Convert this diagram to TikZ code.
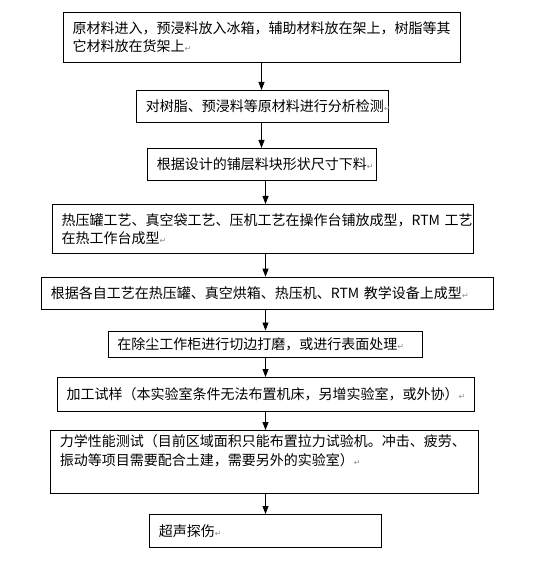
\documentclass[tikz,border=0pt]{standalone}
\usepackage{fontspec}
\setmainfont{Noto Sans CJK SC}
\newfontfamily\markfont{DejaVu Sans}
\usetikzlibrary{arrows.meta}
\newcommand{\retmark}{{\markfont\fontsize{8pt}{8pt}\selectfont\textcolor{black!45}{↵}}}

\begin{document}
\begin{tikzpicture}[
    % GLOBAL CFG
    x=1pt, y=-1pt,
    font=\fontsize{14pt}{18.3pt}\selectfont,
    % Styles
    step box/.style={% For the process boxes
        rectangle,
        draw=black,
        line width=0.8pt,
        anchor=north west,
        inner xsep=9.5pt,
        inner ysep=0pt,
        align=left,
    },
    flow/.style={% Arrows between boxes
        line width=0.8pt,
        -{Triangle[width=6pt,length=8pt]},
    },
    ]

    \useasboundingbox (0,0) rectangle (557,561);

    % Draw boxes named b#
    \node [step box, minimum width=397pt, minimum height=50pt, text width=378pt] (b1) at (62.7,11.7)
        {原材料进入，预浸料放入冰箱，辅助材料放在架上，树脂等其\\它材料放在货架上\retmark};
    \node [step box, minimum width=252pt, minimum height=31.7pt, text width=233pt] (b2) at (136,90)
        {对树脂、预浸料等原材料进行分析检测\retmark};
    \node [step box, minimum width=229pt, minimum height=32pt, text width=210pt] (b3) at (147,148)
        {根据设计的铺层料块形状尺寸下料\retmark};
    \node [step box, minimum width=421pt, minimum height=49pt, text width=402pt] (b4) at (51.7,204)
        {热压罐工艺、真空袋工艺、压机工艺在操作台铺放成型，RTM~工艺\\在热工作台成型\retmark};
    \node [step box, minimum width=452pt, minimum height=32.6pt, text width=433pt] (b5) at (41,276.7)
        {根据各自工艺在热压罐、真空烘箱、热压机、RTM~教学设备上成型\retmark};
    \node [step box, minimum width=314.5pt, minimum height=26pt, text width=295.5pt] (b6) at (107.5,330.5)
        {在除尘工作柜进行切边打磨，或进行表面处理\retmark};
    \node [step box, minimum width=417.3pt, minimum height=33.5pt, text width=398.3pt] (b7) at (56.7,377)
        {加工试样（本实验室条件无法布置机床，另增实验室，或外协）\retmark};
    \node [step box, minimum width=428pt, minimum height=63pt, text width=409pt] (b8) at (50,430)
        {力学性能测试（目前区域面积只能布置拉力试验机。冲击、疲劳、\\振动等项目需要配合土建，需要另外的实验室）\retmark\\\strut};
    \node [step box, minimum width=232pt, minimum height=33pt, text width=213pt] (b9) at (149,514)
        {超声探伤\retmark};

    % Columns the arrows run in
    \coordinate (colA) at (261.5,0);
    \coordinate (colB) at (265.5,0);

    % Connect all
    \draw [flow] (b1.south -| colA) -- (b2.north -| colA);
    \draw [flow] (b2.south -| colA) -- (b3.north -| colA);
    \draw [flow] (b3.south -| colB) -- (b4.north -| colB);
    \draw [flow] (b4.south -| colB) -- (b5.north -| colB);
    \draw [flow] (b5.south -| colB) -- (b6.north -| colB);
    \draw [flow] (b6.south -| colB) -- (b7.north -| colB);
    \draw [flow] (b7.south -| colB) -- (b8.north -| colB);
    \draw [flow] (b8.south -| colB) -- (b9.north -| colB);

\end{tikzpicture}
\end{document}
